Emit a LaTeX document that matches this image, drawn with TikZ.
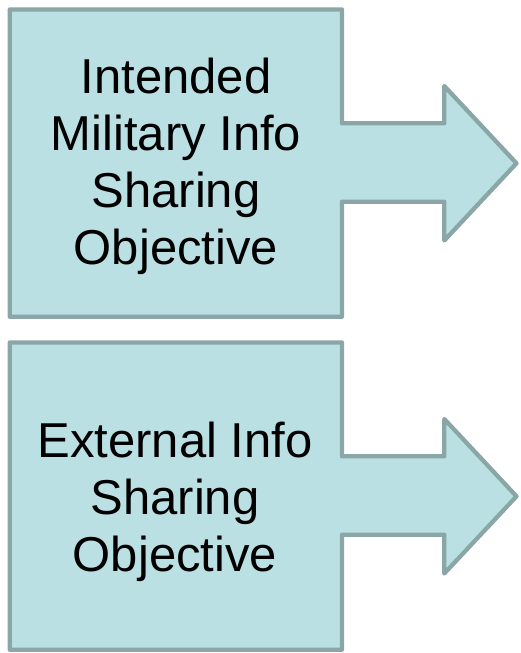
\documentclass[tikz,border=0pt]{standalone}
\usepackage{fontspec}
\setmainfont{Liberation Sans}
\definecolor{boxfill}{HTML}{BBE0E3}
\definecolor{boxline}{HTML}{8AA6A7}
\tikzset{
  arrowbox/.style={fill=boxfill, draw=boxline, line width=4.3pt, line join=round},
  boxtext/.style={align=center, inner sep=0pt, font=\fontsize{49}{57}\selectfont, text=black}
}
\begin{document}
\begin{tikzpicture}[x=1pt,y=-1pt]
\useasboundingbox (0,0) rectangle (520,653);
% top shape
\draw[arrowbox] (9.7,9.5) -- (342,9.5) -- (342,123.3) -- (444.3,123.3) -- (444.3,86)
  -- (516.5,163.3) -- (444.3,240.5) -- (444.3,201.7) -- (342,201.7) -- (342,316.7)
  -- (9.7,316.7) -- cycle;
\node[boxtext] (top) at (176,166) {Intended\\Military Info\\Sharing\\Objective};
% bottom shape
\begin{scope}[yshift=-333pt]
\draw[arrowbox] (9.7,9.5) -- (342,9.5) -- (342,123.3) -- (444.3,123.3) -- (444.3,86)
  -- (516.5,163.3) -- (444.3,240.5) -- (444.3,201.7) -- (342,201.7) -- (342,316.7)
  -- (9.7,316.7) -- cycle;
\end{scope}
\node[boxtext] (bottom) at (175,502) {External Info\\Sharing\\Objective};
\end{tikzpicture}
\end{document}
